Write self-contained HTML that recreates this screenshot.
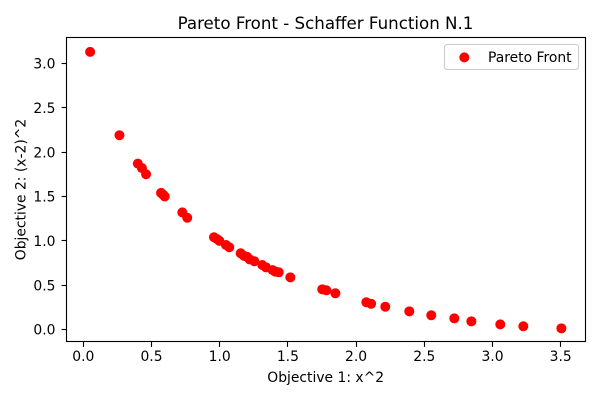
<!DOCTYPE html>
<html>
<head>
<meta charset="utf-8">
<title>Pareto Front - Schaffer Function N.1</title>
<style>
html,body{margin:0;padding:0;background:#fff;}
svg{display:block;}
text{font-family:"DejaVu Sans",sans-serif;fill:#000;}
</style>
</head>
<body>
<svg id="chart" width="600" height="400" viewBox="0 0 600 400" xmlns="http://www.w3.org/2000/svg">
<rect x="0" y="0" width="600" height="400" fill="#fff"/>
<g id="ticks"></g>
<g id="points"></g>
<rect x="66.5" y="37.5" width="519" height="304" fill="none" stroke="#000" stroke-width="1.11"/>
<text x="325.5" y="29" font-size="16.67" text-anchor="middle">Pareto Front - Schaffer Function N.1</text>
<text x="325.7" y="382" font-size="13.89" text-anchor="middle">Objective 1: x^2</text>
<text x="0" y="0" font-size="13.89" text-anchor="middle" transform="translate(25.5,189.5) rotate(-90)">Objective 2: (x-2)^2</text>
<g>
<rect x="444.5" y="44.5" width="134" height="25" rx="2.8" fill="#fff" fill-opacity="0.8" stroke="#ccc" stroke-width="1.11"/>
<circle cx="464.3" cy="57.4" r="5" fill="#f00"/>
<text x="488" y="62" font-size="13.89">Pareto Front</text>
</g>
</svg>
<script>
const xTicks = [0, 0.5, 1, 1.5, 2, 2.5, 3, 3.5];
const yTicks = [0, 0.5, 1, 1.5, 2, 2.5, 3];
const objective1 = [0.05, 0.265, 0.40, 0.43, 0.46, 0.57, 0.585, 0.597, 0.726, 0.762, 0.958, 0.98, 0.997, 1.046, 1.07, 1.154, 1.178, 1.2, 1.22, 1.254, 1.312, 1.34, 1.388, 1.408, 1.433, 1.518, 1.752, 1.782, 1.848, 2.075, 2.11, 2.214, 2.39, 2.551, 2.72, 2.845, 3.057, 3.226, 3.505];
const objective2 = [3.13, 2.19, 1.87, 1.82, 1.75, 1.54, 1.52, 1.50, 1.32, 1.26, 1.04, 1.02, 1.00, 0.953, 0.927, 0.859, 0.83, 0.82, 0.79, 0.77, 0.727, 0.70, 0.67, 0.652, 0.645, 0.588, 0.453, 0.442, 0.408, 0.307, 0.29, 0.257, 0.205, 0.16, 0.126, 0.092, 0.058, 0.036, 0.013];

const NS = 'http://www.w3.org/2000/svg';
function xScale(v) { return 83.3 + v * 136.4; }
function yScale(v) { return 329.5 - v * 88.7; }

const tickLayer = document.getElementById('ticks');
const pointLayer = document.getElementById('points');

xTicks.forEach(function (t) {
  const px = Math.round(xScale(t) - 0.5) + 0.5;
  const line = document.createElementNS(NS, 'line');
  
  
  line.setAttribute('x1', px);
  line.setAttribute('x2', px);
  line.setAttribute('y1', 342);
  line.setAttribute('y2', 346.9);
  line.setAttribute('stroke', '#000');
  line.setAttribute('stroke-width', 1.11);
  tickLayer.appendChild(line);
  const label = document.createElementNS(NS, 'text');
  
  
  label.setAttribute('x', xScale(t));
  label.setAttribute('y', 361);
  label.setAttribute('font-size', 13.89);
  label.setAttribute('text-anchor', 'middle');
  label.textContent = t.toFixed(1);
  tickLayer.appendChild(label);
});

yTicks.forEach(function (t) {
  const py = Math.round(yScale(t) - 0.5) + 0.5;
  const line = document.createElementNS(NS, 'line');
  
  
  line.setAttribute('x1', 61.6);
  line.setAttribute('x2', 66.5);
  line.setAttribute('y1', py);
  line.setAttribute('y2', py);
  line.setAttribute('stroke', '#000');
  line.setAttribute('stroke-width', 1.11);
  tickLayer.appendChild(line);
  const label = document.createElementNS(NS, 'text');
  
  
  label.setAttribute('x', 55.5);
  label.setAttribute('y', yScale(t) + 5.2);
  label.setAttribute('font-size', 13.89);
  label.setAttribute('text-anchor', 'end');
  label.textContent = t.toFixed(1);
  tickLayer.appendChild(label);
});

objective1.forEach(function (v, i) {
  const c = document.createElementNS(NS, 'circle');
  
  
  c.setAttribute('cx', xScale(v));
  c.setAttribute('cy', yScale(objective2[i]));
  c.setAttribute('r', 5);
  c.setAttribute('fill', '#f00');
  pointLayer.appendChild(c);
});
</script>
</body>
</html>
